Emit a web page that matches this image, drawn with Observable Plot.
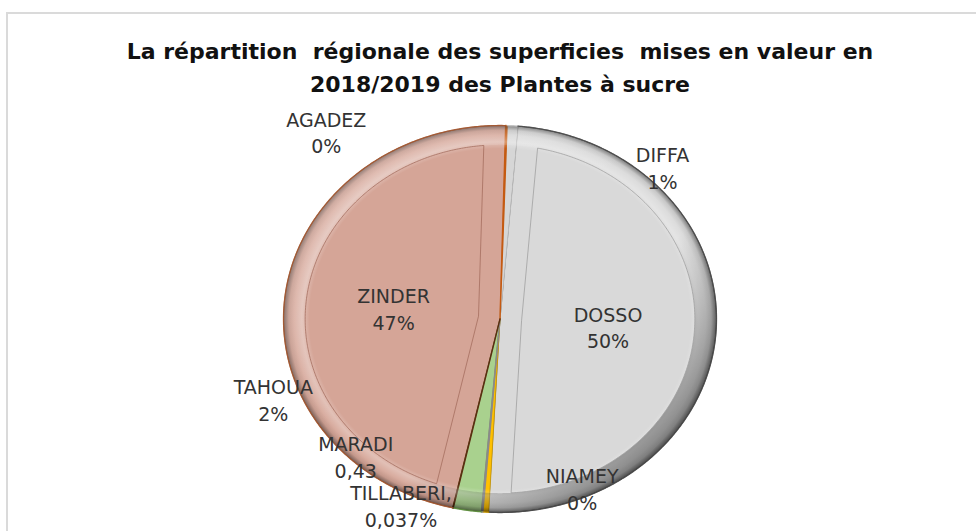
<!DOCTYPE html>
<html><head><meta charset="utf-8">
<script src="https://cdn.jsdelivr.net/npm/d3@7"></script>
<script src="https://cdn.jsdelivr.net/npm/@observablehq/plot@0.6"></script>
<style>
html,body{margin:0;padding:0;width:976px;height:531px;overflow:hidden;background:#fff;}
#frame{position:absolute;left:6px;top:12px;width:1000px;height:600px;border:2px solid #dadada;box-sizing:border-box;}
#chart{position:absolute;left:0;top:0;}
#title{position:absolute;left:0;width:1000px;top:35px;text-align:center;font-family:"DejaVu Sans",sans-serif;font-weight:bold;font-size:22px;line-height:33px;color:#111;}
</style></head><body>
<div id="frame"></div>
<div id="chart"></div>
<div id="title">La répartition&nbsp; régionale des superficies&nbsp; mises en valeur en<br>2018/2019 des Plantes à sucre</div>
<script>
// ---- data ----
const regions = ["AGADEZ","DIFFA","DOSSO","MARADI","NIAMEY","TAHOUA","TILLABERI","ZINDER"];
const shares = [0.1, 0.8, 49.5, 0.43, 0.1, 2.1, 0.037, 46.9];
const labelNames = ["AGADEZ","DIFFA","DOSSO","MARADI","NIAMEY","TAHOUA","TILLABERI,","ZINDER"];
const labelValues = ["0%","1%","50%","0,43","0%","2%","0,037%","47%"];

// ---- styles / layout ----
const fills = {AGADEZ:"#c55a11", DIFFA:"#d6d6d6", DOSSO:"#d9d9d9", MARADI:"#ffc000", NIAMEY:"#9a9a9a", TAHOUA:"#a9d18e", TILLABERI:"#6b3a1c", ZINDER:"#d5a597"};
const edges = {AGADEZ:"#c55a11", DIFFA:"#c4c4c4", DOSSO:"#4a4a4a", MARADI:"#c99700", NIAMEY:"#8a8a8a", TAHOUA:"#5f8f3e", TILLABERI:"#5a2e12", ZINDER:"#a5572f"};
const insetStroke = {DOSSO:"#a0a0a0", ZINDER:"#a56e5f"};
const firstSliceAngle = 1.5; // degrees
const labelRadius = [1,1,0.5,1,1,1,1,0.5];
const labelNudge = [[-180,6],[150,41],[0,1],[-130,-56],[100,-24],[-194,-111],[-52,-3],[1,1]];

const rad = d => d * Math.PI / 180;
const pie = d3.pie().sort(null).startAngle(rad(firstSliceAngle)).endAngle(rad(firstSliceAngle + 360))(shares);
const step = rad(0.5);
function arcPts(a0, a1, r) {
  const n = Math.max(1, Math.ceil(Math.abs(a1 - a0) / step));
  const p = [];
  for (let i = 0; i <= n; i++) { const a = a0 + (a1 - a0) * i / n; p.push({x: r * Math.sin(a), y: r * Math.cos(a)}); }
  return p;
}
const slices = pie.map((s, i) => ({
  region: regions[i], a0: s.startAngle, a1: s.endAngle,
  pts: [{x:0, y:0}, ...arcPts(s.startAngle, s.endAngle, 1)]
}));
function insetPts(a0, a1, d) {
  const R = 1 - d, half = (a1 - a0) / 2, del = Math.asin(d / R);
  const mid = a0 + half, ad = d / Math.sin(half);
  return [{x: ad * Math.sin(mid), y: ad * Math.cos(mid)}, ...arcPts(a0 + del, a1 - del, R)];
}
const full = arcPts(0, 2 * Math.PI, 1);
const ring = [...arcPts(0, 2 * Math.PI, 1), ...arcPts(2 * Math.PI, 0, 0.9)];

const bigFirst = [...slices].sort((a, b) => (b.a1 - b.a0) - (a.a1 - a.a0));
const marks = [];
for (const s of bigFirst) {
  marks.push(Plot.line(s.pts, {x: "x", y: "y", curve: "linear-closed", fill: fills[s.region], stroke: edges[s.region], strokeWidth: (s.a1 - s.a0) < rad(1) ? 1.4 : 0.8}));
}
marks.push(Plot.line(full, {x: "x", y: "y", curve: "linear-closed", fill: "url(#rimRadial)", stroke: "none"}));
marks.push(Plot.line(ring, {x: "x", y: "y", curve: "linear-closed", fill: "url(#rimLight)", stroke: "none"}));
for (const s of slices) {
  if (insetStroke[s.region]) {
    marks.push(Plot.line(insetPts(s.a0, s.a1, 0.1), {x: "x", y: "y", curve: "linear-closed", fill: "none", stroke: insetStroke[s.region], strokeWidth: 1, strokeOpacity: 0.8}));
  }
}
for (const s of slices) {
  marks.push(Plot.line(arcPts(s.a0, s.a1, 1), {x: "x", y: "y", fill: "none", stroke: edges[s.region], strokeWidth: 1.3, strokeOpacity: 0.85}));
}
pie.forEach((s, i) => {
  const m = (s.startAngle + s.endAngle) / 2, r = labelRadius[i];
  marks.push(Plot.text([{x: r * Math.sin(m), y: r * Math.cos(m), t: labelNames[i] + "\n" + labelValues[i]}], {
    x: "x", y: "y", text: "t", dx: labelNudge[i][0], dy: labelNudge[i][1],
    fontSize: 19, fontFamily: "DejaVu Sans", fill: "#333333", lineHeight: 1.4, textAnchor: "middle"
  }));
});

const svg = Plot.plot({
  width: 976, height: 531,
  marginLeft: 283, marginRight: 260, marginTop: 125, marginBottom: 19,
  x: {domain: [-1, 1], axis: null},
  y: {domain: [-1, 1], axis: null},
  style: {background: "transparent", overflow: "visible"},
  marks
});
const defs = d3.select(svg).insert("defs", ":first-child");
const rg = defs.append("radialGradient").attr("id", "rimRadial").attr("cx", 0.5).attr("cy", 0.5).attr("r", 0.5);
[[0,"#fff",0],[0.88,"#fff",0],[0.915,"#fff",0.3],[0.95,"#fff",0.08],[0.975,"#000",0.08],[1,"#000",0.45]]
  .forEach(([o,c,a]) => rg.append("stop").attr("offset", o).attr("stop-color", c).attr("stop-opacity", a));
const lg = defs.append("linearGradient").attr("id", "rimLight").attr("x1", 0).attr("y1", 0).attr("x2", 1).attr("y2", 1);
[[0,"#fff",0.3],[0.45,"#fff",0],[0.6,"#000",0],[1,"#000",0.6]]
  .forEach(([o,c,a]) => lg.append("stop").attr("offset", o).attr("stop-color", c).attr("stop-opacity", a));
document.getElementById("chart").appendChild(svg);
</script>
</body></html>
